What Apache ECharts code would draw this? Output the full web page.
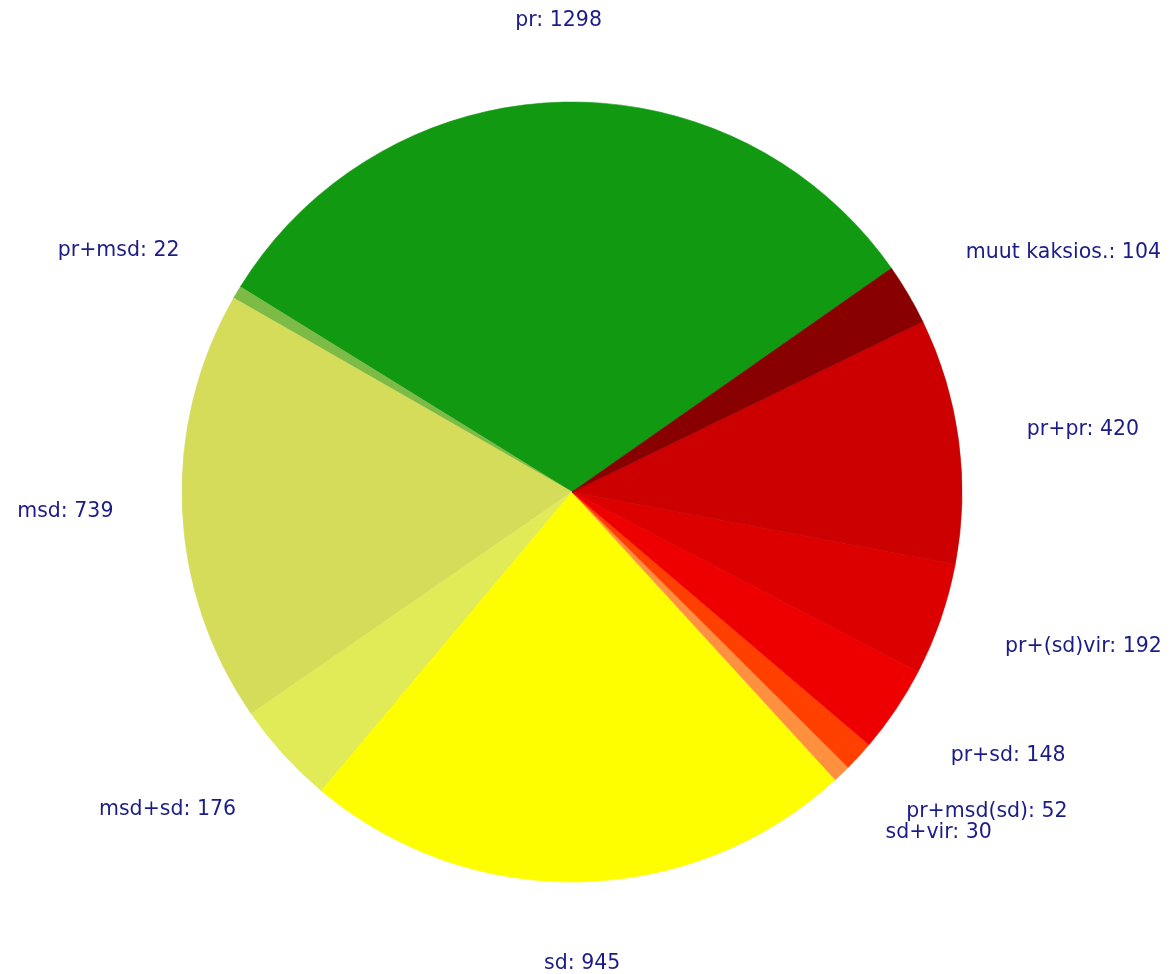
<!DOCTYPE html>
<html>
<head>
<meta charset="utf-8">
<script src="https://cdn.jsdelivr.net/npm/echarts@6/dist/echarts.min.js"></script>
<style>
html,body{margin:0;padding:0;background:#fff;}
#chart{width:1173px;height:974px;}
</style>
</head>
<body>
<div id="chart"></div>
<script>
// ---- data ----
const categories = ['pr', 'pr+msd', 'msd', 'msd+sd', 'sd', 'sd+vir', 'pr+msd(sd)', 'pr+sd', 'pr+(sd)vir', 'pr+pr', 'muut kaksios.'];
const values = [1298, 22, 739, 176, 945, 30, 52, 148, 192, 420, 104];
const colors = ['#129912', '#7cbb46', '#d4dc5a', '#e1eb58', '#fefe00', '#ff9040', '#ff4000', '#ee0000', '#dd0000', '#cc0000', '#880000'];

// ---- layout ----
const CX = 572, CY = 492, RADIUS = 390, LABEL_R = 472, START = 35, EDGE_OFF = 13;

const total = values.reduce((a, b) => a + b, 0);
const chart = echarts.init(document.getElementById('chart'), null, {renderer: 'canvas'});

const option = {
  animation: false,
  backgroundColor: '#ffffff',
  series: [{
    type: 'pie',
    center: [CX, CY],
    radius: [0, RADIUS],
    startAngle: START,
    clockwise: false,
    avoidLabelOverlap: false,
    emphasis: {disabled: true},
    label: {
      show: true,
      position: 'outside',
      formatter: p => p.name + ': ' + p.value,
      color: '#1c1c88',
      fontFamily: 'DejaVu Sans',
      fontSize: 20.5
    },
    labelLine: {show: false, length: 10, length2: 0},
    labelLayout: function (p) {
      const i = p.dataIndex;
      let before = 0;
      for (let j = 0; j < i; j++) before += values[j];
      const mid = START + (before + values[i] / 2) / total * 360;
      const a = mid * Math.PI / 180;
      const dx = Math.cos(a), dy = -Math.sin(a);
      let x = CX + dx * LABEL_R, y = CY + dy * LABEL_R;
      let align = 'center';
      if (dx > 0.1) { align = 'left'; x -= EDGE_OFF; }
      else if (dx < -0.1) { align = 'right'; x += EDGE_OFF; }
      return {x: x, y: y, align: align, verticalAlign: 'middle'};
    },
    data: categories.map((c, i) => ({
      name: c, value: values[i],
      itemStyle: {color: colors[i], borderColor: colors[i], borderWidth: 0.6}
    }))
  }]
};
chart.setOption(option);
</script>
</body>
</html>
